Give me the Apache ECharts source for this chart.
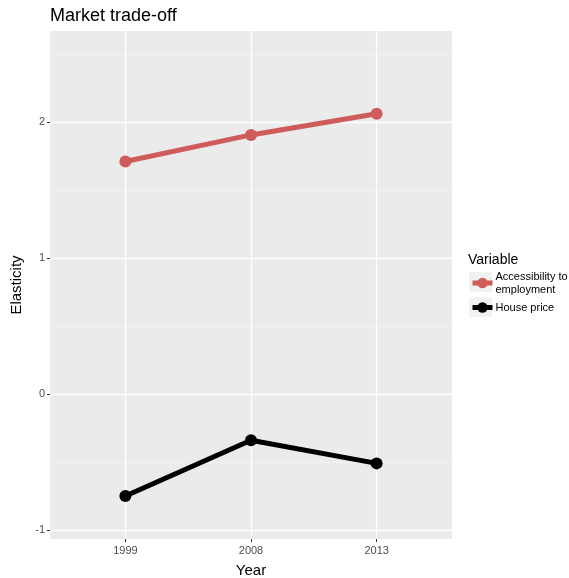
<!DOCTYPE html>
<html>
<head>
<meta charset="utf-8">
<script src="https://cdn.jsdelivr.net/npm/echarts@6/dist/echarts.min.js"></script>
<style>html,body{margin:0;padding:0;background:#fff}#c{width:569px;height:578px}</style>
</head>
<body>
<div id="c"></div>
<script>
var years = ['1999', '2008', '2013'];
var accessibility = [1.71, 1.905, 2.06];
var housePrice = [-0.75, -0.34, -0.51];
var yMajor = [-1, 0, 1, 2];
var yMinor = [-0.5, 0.5, 1.5, 2.5];
var xTicks = [0, 1, 2];

function pairs(arr) { return arr.map(function (v, i) { return [i, v]; }); }

var chart = echarts.init(document.getElementById('c'), null, { renderer: 'canvas' });
var font = 'Liberation Sans, Arial, sans-serif';
chart.setOption({
  animation: false,
  backgroundColor: '#ffffff',
  title: [
    { text: 'Market trade-off', left: 50, top: 7, padding: 0, textStyle: { fontFamily: font, fontSize: 18, fontWeight: 'normal', color: '#000' } },
    { text: 'Variable', left: 468, top: 253, padding: 0, textStyle: { fontFamily: font, fontSize: 14, fontWeight: 'normal', color: '#000' } }
  ],
  graphic: [
    { type: 'rect', left: 469, top: 272, shape: { width: 23, height: 20 }, style: { fill: '#F2F2F2' }, z: -1, silent: true },
    { type: 'rect', left: 469, top: 297, shape: { width: 23, height: 20 }, style: { fill: '#F2F2F2' }, z: -1, silent: true }
  ],
  grid: { left: 50, right: 117, top: 31, bottom: 39, show: true, backgroundColor: '#EBEBEB', borderWidth: 0, outerBoundsMode: 'none', containLabel: false },
  legend: {
    left: 470, top: 270, orient: 'vertical', itemWidth: 20, itemHeight: 13, itemGap: 5, padding: 0,
    textStyle: { fontFamily: font, fontSize: 11, color: '#000', lineHeight: 13, padding: [0, 0, 0, -2] },
    lineStyle: { width: 5 },
    data: [
      { name: 'Accessibility to\nemployment' },
      { name: 'House price' }
    ]
  },
  xAxis: {
    type: 'value', min: -0.6, max: 2.6,
    name: 'Year', nameLocation: 'middle', nameGap: 24,
    nameTextStyle: { fontFamily: font, fontSize: 15, color: '#000' },
    axisLine: { show: false, onZero: false },
    axisTick: { show: true, length: 3, customValues: xTicks, lineStyle: { color: '#333', width: 1 } },
    axisLabel: { customValues: xTicks, margin: 6, fontFamily: font, fontSize: 11, color: '#4D4D4D', formatter: function (v) { return years[Math.round(v)]; } },
    splitLine: { show: true, lineStyle: { color: '#fff', width: 1.3 } }
  },
  yAxis: [
    {
      type: 'value', min: -1.066, max: 2.669,
      name: 'Elasticity', nameLocation: 'middle', nameGap: 26, nameRotate: 90,
      nameTextStyle: { fontFamily: font, fontSize: 15, color: '#000' },
      axisLine: { show: false, onZero: false },
      axisTick: { show: true, length: 3, customValues: yMajor, lineStyle: { color: '#333', width: 1 } },
      axisLabel: { customValues: yMajor, margin: 5, fontFamily: font, fontSize: 11, color: '#4D4D4D' },
      splitLine: { show: true, lineStyle: { color: '#fff', width: 1.3 } }
    },
    {
      type: 'value', min: -1.066, max: 2.669, position: 'left',
      axisLine: { show: false, onZero: false },
      axisTick: { show: false, customValues: yMinor },
      axisLabel: { show: false, customValues: yMinor },
      splitLine: { show: true, lineStyle: { color: '#F5F5F5', width: 0.7 } }
    }
  ],
  series: [
    {
      name: 'Accessibility to\nemployment', type: 'line', data: pairs(accessibility), yAxisIndex: 0,
      symbol: 'circle', symbolSize: 12, z: 5,
      itemStyle: { color: '#CF5B5A' }, lineStyle: { color: '#CF5B5A', width: 5 }
    },
    {
      name: 'House price', type: 'line', data: pairs(housePrice), yAxisIndex: 0,
      symbol: 'circle', symbolSize: 12, z: 5,
      itemStyle: { color: '#000' }, lineStyle: { color: '#000', width: 5 }
    }
  ]
});
</script>
</body>
</html>
